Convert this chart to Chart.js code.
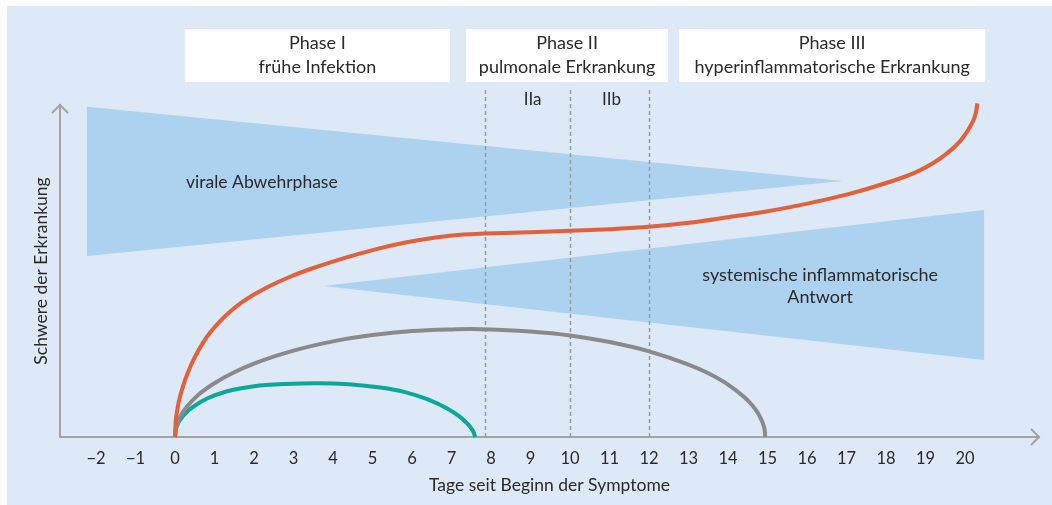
<!DOCTYPE html>
<html>
<head>
<meta charset="utf-8">
<script src="https://cdn.jsdelivr.net/npm/chart.js@4.4.0/dist/chart.umd.min.js"></script>
<style>
  html, body { margin: 0; padding: 0; background: #fff; }
  #wrap { width: 1052px; height: 505px; }
</style>
</head>
<body>
<div id="wrap"><canvas id="phaseChart" width="1052" height="505"></canvas></div>
<script>
// x-Achse: Tage seit Beginn der Symptome
const dayTicks = [-2, -1, 0, 1, 2, 3, 4, 5, 6, 7, 8, 9, 10, 11, 12, 13, 14, 15, 16, 17, 18, 19, 20];
const dayLabels = ['\u22122', '\u22121', '0', '1', '2', '3', '4', '5', '6', '7', '8', '9', '10',
  '11', '12', '13', '14', '15', '16', '17', '18', '19', '20'];

// Phasen (Tage)
const phaseTitles = ['Phase I', 'Phase II', 'Phase III'];
const phaseNames = ['frühe Infektion', 'pulmonale Erkrankung', 'hyperinflammatorische Erkrankung'];
const phaseStart = [0.25, 7.37, 12.76];
const phaseEnd = [6.96, 12.48, 20.51];
const phaseLines = [7.85, 10, 12];
const subPhases = ['IIa', 'IIb'];
const subPhaseDays = [9.05, 11.05];

// Schwere (orange)
const orangeX = [0, 0.02, 0.05, 0.1, 0.2, 0.35, 0.5, 0.7, 0.9, 1.15, 1.4, 1.7, 2.0, 2.4, 2.9, 3.5, 4.2,
  5.0, 5.8, 6.6, 7.3, 7.85, 9, 10, 11, 12, 13, 14, 15, 16, 17, 18, 18.8, 19.45, 19.9, 20.15, 20.27, 20.31];
const orangeY = [0, 4.8, 7.6, 10.8, 15.2, 20.1, 24.0, 28.2, 31.6, 35.0, 37.8, 40.6, 42.9, 45.5, 48.2,
  50.9, 53.6, 56.3, 58.5, 60.1, 61.0, 61.3, 61.7, 62.1, 62.6, 63.3, 64.5, 66.2, 68.0, 70.3, 73.0, 76.5,
  80.0, 84.6, 89.5, 94.0, 97.5, 100.5];

// grau
const grayX = [0, 0.02, 0.08, 0.15, 0.3, 0.6, 1, 1.5, 2, 3, 4, 5, 6, 7, 7.47, 8, 9, 10, 11, 12, 13,
  13.5, 14, 14.4, 14.6, 14.75, 14.85, 14.9, 14.93, 14.94];
const grayY = [0, 2.4, 4.7, 6.5, 9.1, 12.8, 16.2, 19.5, 22.1, 26.0, 28.8, 30.7, 31.9, 32.4, 32.5, 32.4,
  31.8, 30.6, 28.6, 25.8, 21.8, 19.2, 15.8, 12.1, 9.7, 7.3, 5.0, 3.4, 1.7, 0];

// türkis
const tealX = [0, 0.02, 0.06, 0.12, 0.25, 0.45, 0.8, 1.3, 2, 2.8, 3.6, 4.4, 5.2, 5.8, 6.4, 6.9, 7.2,
  7.4, 7.5, 7.56, 7.6];
const tealY = [0, 2.0, 3.6, 5.0, 7.0, 9.0, 11.5, 13.7, 15.3, 16.0, 16.2, 15.9, 14.9, 13.6, 11.3, 8.5,
  6.2, 4.0, 2.6, 1.4, 0];

// Flächen: virale Abwehrphase / systemische inflammatorische Antwort
const viralX = [-2.23, 16.89, -2.23, -2.23];
const viralY = [99.5, 77.1, 54.5, 99.5];
const inflamX = [3.75, 20.48, 20.48, 3.75];
const inflamY = [45.5, 68.4, 23.2, 45.5];

const PANEL = '#dde9f6';
const AREA = '#acd2ef';
const TEXT = '#2a2a2a';
const FONT = 'Lato';

const pts = (xs, ys) => xs.map((x, i) => ({ x: x, y: ys[i] }));

const curve = (label, xs, ys, color) => ({
  label: label,
  data: pts(xs, ys),
  showLine: true,
  borderColor: color,
  borderWidth: 4,
  pointRadius: 0,
  cubicInterpolationMode: 'monotone',
  fill: false,
  clip: false,
  order: 1
});

const area = (label, xs, ys) => ({
  label: label,
  data: pts(xs, ys),
  showLine: true,
  borderWidth: 0,
  borderColor: AREA,
  backgroundColor: AREA,
  pointRadius: 0,
  tension: 0,
  fill: 'shape',
  order: 2
});

const decoPlugin = {
  id: 'deco',
  beforeDraw(chart) {
    const ctx = chart.ctx;
    const x = chart.scales.x;
    ctx.save();
    ctx.fillStyle = '#fff';
    ctx.fillRect(0, 0, chart.width, chart.height);
    ctx.fillStyle = PANEL;
    ctx.fillRect(7, 6, chart.width - 7, chart.height - 6);

    ctx.textAlign = 'center';
    ctx.textBaseline = 'middle';
    ctx.font = '18px ' + FONT;
    phaseStart.forEach((s, i) => {
      const l = x.getPixelForValue(s);
      const r = x.getPixelForValue(phaseEnd[i]);
      ctx.fillStyle = '#fff';
      ctx.fillRect(l, 29, r - l, 53);
      ctx.fillStyle = TEXT;
      ctx.fillText(phaseTitles[i], (l + r) / 2, 43);
      ctx.fillText(phaseNames[i], (l + r) / 2, 67);
    });
    ctx.font = '17px ' + FONT;
    subPhases.forEach((t, i) => {
      ctx.fillText(t, x.getPixelForValue(subPhaseDays[i]), 100);
    });
    ctx.restore();
  },
  afterDatasetDraw(chart, args) {
    if (args.index !== 3) return;
    const ctx = chart.ctx;
    const x = chart.scales.x;
    ctx.save();
    ctx.strokeStyle = '#9a9a9a';
    ctx.lineWidth = 1.5;
    ctx.setLineDash([4, 3]);
    phaseLines.forEach(d => {
      const px = Math.round(x.getPixelForValue(d)) + 0.5;
      ctx.beginPath();
      ctx.moveTo(px, 90);
      ctx.lineTo(px, chart.chartArea.bottom);
      ctx.stroke();
    });
    ctx.restore();
  },
  afterDraw(chart) {
    const ctx = chart.ctx;
    const x = chart.scales.x;
    const y = chart.scales.y;
    const a = chart.chartArea;
    ctx.save();
    // Pfeilspitzen
    ctx.strokeStyle = '#a3a3a3';
    ctx.lineWidth = 2;
    ctx.beginPath();
    ctx.moveTo(a.right - 8, a.bottom - 8);
    ctx.lineTo(a.right, a.bottom);
    ctx.lineTo(a.right - 8, a.bottom + 8);
    ctx.moveTo(a.left - 8, a.top + 8);
    ctx.lineTo(a.left, a.top);
    ctx.lineTo(a.left + 8, a.top + 8);
    ctx.stroke();

    ctx.fillStyle = TEXT;
    ctx.textAlign = 'center';
    ctx.textBaseline = 'middle';
    ctx.font = '17.5px ' + FONT;
    ctx.fillText('virale Abwehrphase', x.getPixelForValue(2.2), y.getPixelForValue(76.8));
    ctx.font = '18px ' + FONT;
    ctx.fillText('systemische inflammatorische', x.getPixelForValue(16.33), y.getPixelForValue(48.8));
    ctx.fillText('Antwort', x.getPixelForValue(16.33), y.getPixelForValue(42.2));
    ctx.restore();
  }
};

new Chart(document.getElementById('phaseChart').getContext('2d'), {
  type: 'scatter',
  data: {
    datasets: [
      curve('schwer', orangeX, orangeY, '#e2603a'),
      curve('mittel', grayX, grayY, '#8a8a8a'),
      curve('leicht', tealX, tealY, '#0aa898'),
      area('virale Abwehrphase', viralX, viralY),
      area('systemische inflammatorische Antwort', inflamX, inflamY)
    ]
  },
  options: {
    responsive: false,
    animation: false,
    events: [],
    layout: { padding: { left: 31, right: 13, top: 105, bottom: 9 } },
    plugins: {
      legend: { display: false },
      tooltip: { enabled: false }
    },
    scales: {
      x: {
        type: 'linear',
        min: -2.91,
        max: 21.87,
        grid: { display: false, drawTicks: false },
        border: { display: true, color: '#a3a3a3', width: 2 },
        afterBuildTicks: s => { s.ticks = dayTicks.map(v => ({ value: v })); },
        afterFit: s => { s.height = 59; },
        ticks: {
          autoSkip: false,
          maxRotation: 0,
          padding: 12,
          color: TEXT,
          font: { family: FONT, size: 16.5 },
          callback: v => dayLabels[dayTicks.indexOf(v)]
        },
        title: {
          display: true,
          text: 'Tage seit Beginn der Symptome',
          color: TEXT,
          padding: 0,
          font: { family: FONT, size: 17.5 }
        }
      },
      y: {
        type: 'linear',
        min: 0,
        max: 100,
        grid: { display: false, drawTicks: false },
        border: { display: true, color: '#a3a3a3', width: 2 },
        ticks: { display: false },
        afterFit: s => { s.width = 29; },
        title: {
          display: true,
          text: 'Schwere der Erkrankung',
          color: TEXT,
          padding: 0,
          font: { family: FONT, size: 17.5 }
        }
      }
    }
  },
  plugins: [decoPlugin]
});
</script>
</body>
</html>
